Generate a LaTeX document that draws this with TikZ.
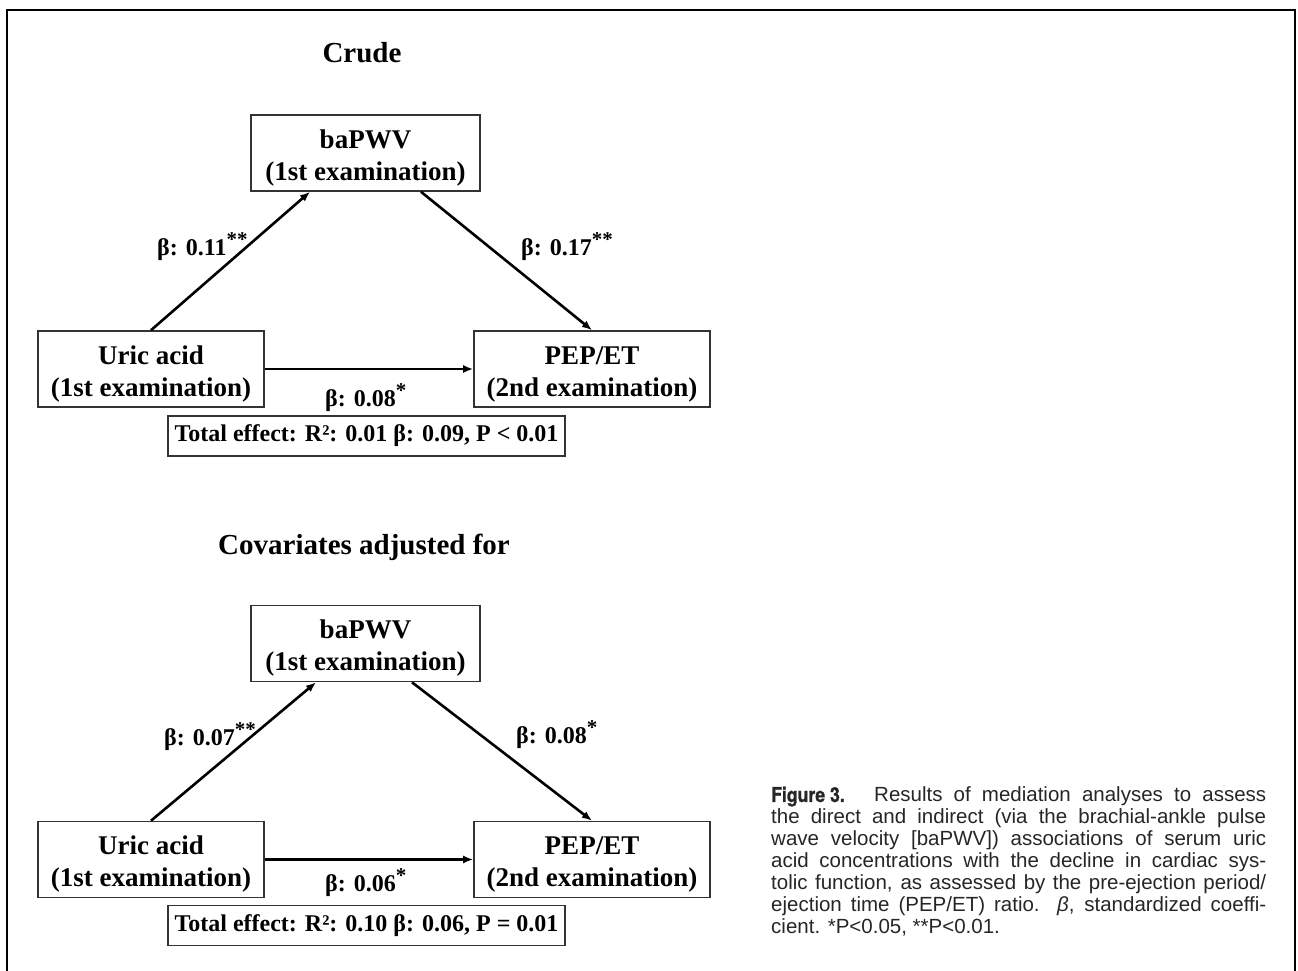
\documentclass[tikz,border=0pt]{standalone}
\usepackage{fontspec}
\usepackage{graphicx}
\setmainfont{Liberation Serif}
\newfontfamily\capfont{Liberation Sans}
\newfontfamily\figfont[FakeBold=1.2]{TeX Gyre Heros}
\usetikzlibrary{arrows.meta}
\newcommand{\boxfnt}{\fontsize{27}{32}\selectfont\bfseries}
\newcommand{\titlefnt}{\fontsize{29}{32}\selectfont\bfseries}
\newcommand{\labfnt}{\fontsize{24}{26}\selectfont\bfseries}
\newcommand{\stars}[1]{\raisebox{9pt}{\fontsize{21}{21}\selectfont #1}}
\newcommand{\capline}[1]{\makebox[495pt][s]{#1}}
\tikzset{
  box/.style={draw=black!80, line width=1.6pt, minimum height=76pt, inner sep=0pt,
              align=center, font=\boxfnt, text height=60pt},
  totbox/.style={draw=black!80, line width=1.6pt, minimum height=40pt, inner sep=0pt, font=\labfnt},
  ttl/.style={inner sep=0pt, font=\titlefnt},
  lab/.style={inner sep=0pt, font=\labfnt},
  arr/.style={line width=2.6pt, -{Latex[length=10pt,width=8pt]}},
  frame/.style={line width=2.5pt, black}
}
\begin{document}
\begin{tikzpicture}[x=1pt,y=-1pt]
\useasboundingbox (0,0) rectangle (1298,971);
\draw[frame] (7,971) -- (7,10) -- (1295,10) -- (1295,971);

% Crude
\node[ttl] (crude) at (362,53) {Crude};
\node[box, minimum width=229pt] (b1) at (365.5,153) {baPWV\\(1st examination)};
\node[box, minimum width=226pt] (u1) at (151,369) {Uric acid\\(1st examination)};
\node[box, minimum width=236pt] (p1) at (592,369) {PEP/ET\\(2nd examination)};
\node[totbox, minimum width=397pt] (t1) at (366.5,436) {Total effect: R²: 0.01 β: 0.09, P < 0.01};
\draw[arr] (u1.north) -- ([xshift=-55.5pt]b1.south);
\draw[arr] ([xshift=55.5pt]b1.south) -- (p1.north);
\draw[arr] (u1.east) -- (p1.west);
\node[lab, anchor=base west] (l1) at (157,255) {β: 0.11\stars{**}};
\node[lab, anchor=base west] (l2) at (521,255) {β: 0.17\stars{**}};
\node[lab, anchor=base west] (l3) at (325,406) {β: 0.08\stars{*}};

% Covariates adjusted for
\node[ttl] (cov) at (364,547) {Covariates adjusted for};
\node[box, minimum width=229pt] (b2) at (365.5,643.5) {baPWV\\(1st examination)};
\node[box, minimum width=226pt] (u2) at (151,859.5) {Uric acid\\(1st examination)};
\node[box, minimum width=236pt] (p2) at (592,859.5) {PEP/ET\\(2nd examination)};
\node[totbox, minimum width=397pt] (t2) at (366.5,925.5) {Total effect: R²: 0.10 β: 0.06, P = 0.01};
\draw[arr] (u2.north) -- ([xshift=-49.5pt]b2.south);
\draw[arr] ([xshift=46.5pt]b2.south) -- (p2.north);
\draw[arr] (u2.east) -- (p2.west);
\node[lab, anchor=base west] (l4) at (164,745) {β: 0.07\stars{**}};
\node[lab, anchor=base west] (l5) at (516,743) {β: 0.08\stars{*}};
\node[lab, anchor=base west] (l6) at (325,891) {β: 0.06\stars{*}};

% Caption
\node[anchor=north west, inner sep=0pt, align=left, text=black!85,
      font=\capfont\fontsize{20.5}{22}\selectfont] (cap) at (771,786.5)
{\capline{\makebox[103pt][l]{\scalebox{0.86}[1]{\figfont\bfseries Figure 3.}}Results of mediation analyses to assess}\\
\capline{the direct and indirect (via the brachial-ankle pulse}\\
\capline{wave velocity [baPWV]) associations of serum uric}\\
\capline{acid concentrations with the decline in cardiac sys-}\\
\capline{tolic function, as assessed by the pre-ejection period/}\\
\capline{ejection time (PEP/ET) ratio. {\itshape β}, standardized coeffi-}\\
cient. *P<0.05, **P<0.01.};
\end{tikzpicture}
\end{document}
